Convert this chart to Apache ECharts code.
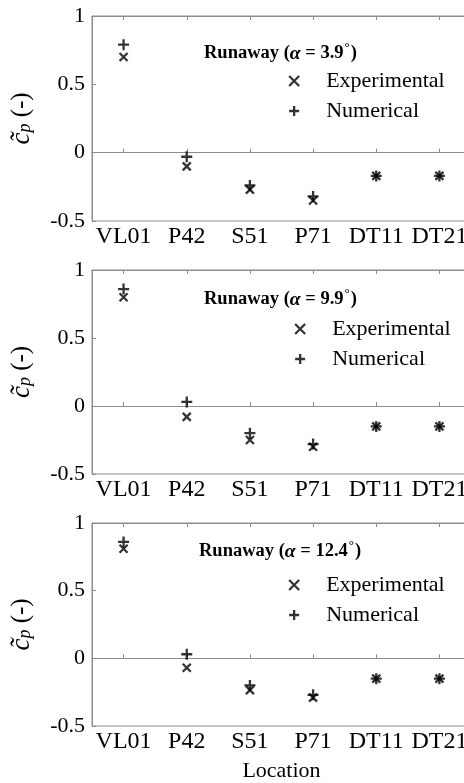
<!DOCTYPE html>
<html>
<head>
<meta charset="utf-8">
<script src="https://cdn.jsdelivr.net/npm/echarts@6/dist/echarts.min.js"></script>
<style>
  html, body { margin: 0; padding: 0; overflow: hidden; background: #ffffff; }
  #chart { width: 472px; height: 783px; }
</style>
</head>
<body>
<div id="chart"></div>
<script>
// Pressure-tap locations along the model
const locations = ['VL01', 'P42', 'S51', 'P71', 'DT11', 'DT21'];

// Runaway angles (degrees) for the three panels
const angles = ['3.9', '9.9', '12.4'];

// Mean pressure coefficient, runaway at alpha = 3.9 deg
const exp39 = [0.70, -0.10, -0.27, -0.35, -0.17, -0.17];
const num39 = [0.79, -0.03, -0.24, -0.32, -0.17, -0.17];

// Runaway at alpha = 9.9 deg
const exp99 = [0.80, -0.08, -0.25, -0.30, -0.15, -0.15];
const num99 = [0.86, 0.03, -0.20, -0.28, -0.15, -0.15];

// Runaway at alpha = 12.4 deg
const exp124 = [0.81, -0.07, -0.235, -0.29, -0.15, -0.15];
const num124 = [0.86, 0.03, -0.20, -0.27, -0.15, -0.15];

const experimental = [exp39, exp99, exp124];
const numerical = [num39, num99, num124];

// Panel geometry (pixels)
const panels = [
  { top: 16,  height: 205, legendLeft: 283, legendTop: 65,  titleLeft: 199, titleTop: 36 },
  { top: 270, height: 204, legendLeft: 289, legendTop: 313, titleLeft: 199, titleTop: 282 },
  { top: 523, height: 204, legendLeft: 283, legendTop: 569, titleLeft: 194, titleTop: 534 }
];

const FONT = '"Liberation Serif", "Times New Roman", "DejaVu Serif", serif';
const TEXT = '#000000';
const AXIS = '#8c8c8c';
const MARK = '#000000';

const crossPath = 'path://M0,0L10,10M0,10L10,0';
const plusPath = 'path://M5,0L5,10M0,5L10,5';

const grid = [], xAxis = [], yAxis = [], series = [], legend = [], title = [];

panels.forEach((p, i) => {
  grid.push({
    left: 89, right: 1, top: p.top, height: p.height,
    show: true, borderColor: AXIS, borderWidth: 1, backgroundColor: 'transparent'
  });

  // bottom category axis
  xAxis.push({
    type: 'category', gridIndex: i, position: 'bottom', data: locations,
    boundaryGap: true,
    axisLine: { show: true, lineStyle: { color: AXIS, width: 1 } },
    axisTick: { show: true, inside: true, alignWithLabel: true, length: 4, lineStyle: { color: AXIS } },
    axisLabel: { color: TEXT, fontFamily: FONT, fontSize: 24, margin: 4, interval: 0 },
    splitLine: { show: false },
    name: i === 2 ? 'Location' : '',
    nameLocation: 'middle', nameGap: 34,
    nameTextStyle: { color: TEXT, fontFamily: FONT, fontSize: 22 }
  });
  // top mirror axis (ticks only)
  xAxis.push({
    type: 'category', gridIndex: i, position: 'top', data: locations,
    boundaryGap: true,
    axisLine: { show: true, lineStyle: { color: AXIS, width: 1 } },
    axisTick: { show: true, inside: true, alignWithLabel: true, length: 4, lineStyle: { color: AXIS } },
    axisLabel: { show: false },
    splitLine: { show: false }
  });

  yAxis.push({
    type: 'value', gridIndex: i, min: -0.5, max: 1, interval: 0.5,
    axisLine: { show: true, lineStyle: { color: AXIS, width: 1 } },
    axisTick: { show: true, inside: true, length: 4, lineStyle: { color: AXIS } },
    axisLabel: { color: TEXT, fontFamily: FONT, fontSize: 22, margin: 7 },
    splitLine: { show: false },
    name: '{c|c\u0303}{p|p}{t| (-)}',
    nameLocation: 'middle', nameGap: 57, nameRotate: 90,
    nameTextStyle: {
      color: TEXT, fontFamily: FONT, fontSize: 24,
      rich: {
        c: { fontFamily: FONT, fontSize: 27, fontStyle: 'italic', color: TEXT },
        p: { fontFamily: FONT, fontSize: 18, fontStyle: 'italic', color: TEXT, padding: [8, 0, 0, 0] },
        t: { fontFamily: FONT, fontSize: 25, color: TEXT }
      }
    }
  });

  series.push({
    name: 'Experimental', type: 'scatter',
    xAxisIndex: 2 * i, yAxisIndex: i,
    symbol: crossPath, symbolSize: 8,
    itemStyle: { color: MARK, borderColor: MARK, borderWidth: 2.3 },
    data: experimental[i], z: 3
  });
  series.push({
    name: 'Numerical', type: 'scatter',
    xAxisIndex: 2 * i, yAxisIndex: i,
    symbol: plusPath, symbolSize: 11,
    itemStyle: { color: MARK, borderColor: MARK, borderWidth: 2.3 },
    data: numerical[i], z: 3
  });

  legend.push({
    data: ['Experimental', 'Numerical'],
    orient: 'vertical', left: p.legendLeft, top: p.legendTop,
    itemWidth: 54, itemHeight: 10, itemGap: 8,
    selectedMode: false,
    itemStyle: { color: MARK, borderColor: MARK, borderWidth: 2.3 },
    textStyle: { color: TEXT, fontFamily: FONT, fontSize: 22, lineHeight: 22 }
  });

  title.push({
    left: p.titleLeft, top: p.titleTop,
    text: '{b|Runaway (}{a|\u03b1}{b| = ' + angles[i] + '}{d|\u00b0}{b|)}',
    textStyle: {
      rich: {
        b: { fontFamily: FONT, fontSize: 18.5, fontWeight: 'bold', color: TEXT },
        a: { fontFamily: FONT, fontSize: 19.5, fontStyle: 'italic', color: TEXT },
        d: { fontFamily: FONT, fontSize: 13, color: TEXT, padding: [0, 1, 12, 1] }
      }
    }
  });
});

const chart = echarts.init(document.getElementById('chart'), null, { renderer: 'canvas' });
chart.setOption({
  animation: false,
  backgroundColor: '#ffffff',
  title, grid, xAxis, yAxis, legend, series
});
</script>
</body>
</html>
